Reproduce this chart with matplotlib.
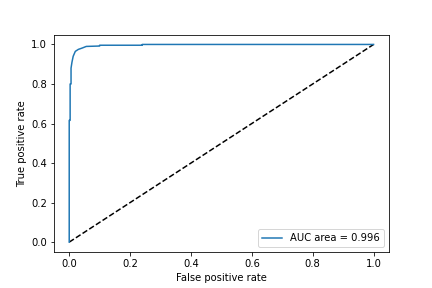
import numpy as np
import matplotlib
matplotlib.use("Agg")
import matplotlib.pyplot as plt

# ROC curve points
fpr = [0.0, 0.0, 0.003, 0.003, 0.006, 0.006, 0.009, 0.013, 0.02, 0.03,
       0.043, 0.056, 0.10, 0.10, 0.24, 0.24, 1.0]
tpr = [0.0, 0.616, 0.616, 0.80, 0.80, 0.88, 0.91, 0.94, 0.965, 0.975,
       0.982, 0.99, 0.992, 0.996, 0.996, 1.0, 1.0]
auc = 0.996

fig = plt.figure(figsize=(6, 4), dpi=72)
fig.subplots_adjust(left=0.125, right=0.9, top=0.88, bottom=0.125)
plt.plot([0, 1], [0, 1], 'k--')
plt.plot(fpr, tpr, label="AUC area = {:.3f}".format(auc))
plt.xlabel("False positive rate")
plt.ylabel("True positive rate")
plt.legend(loc="lower right")
plt.savefig("out.png", dpi=72)
